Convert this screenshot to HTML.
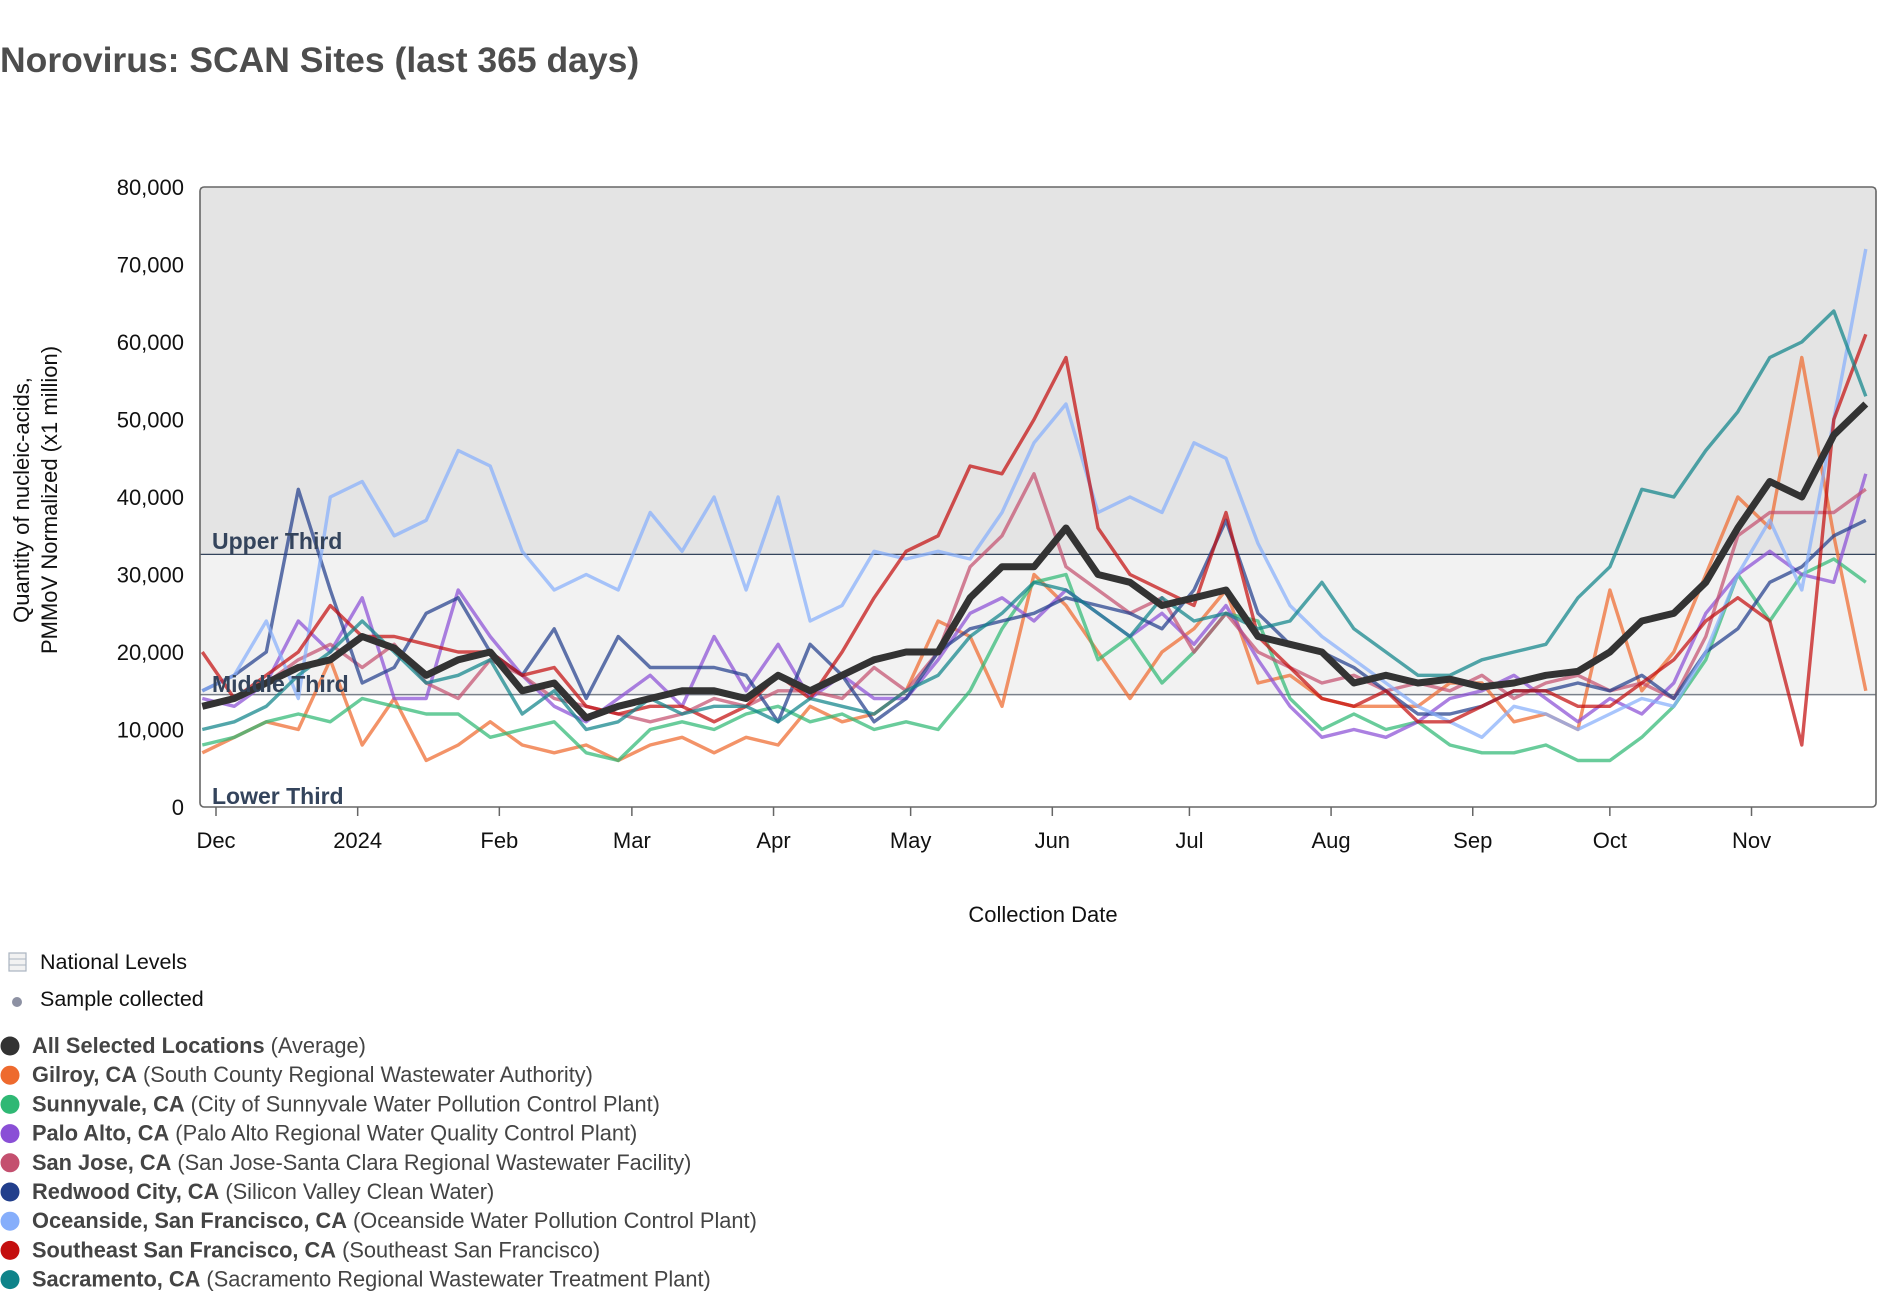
<!DOCTYPE html>
<html><head><meta charset="utf-8"><style>
html,body{margin:0;padding:0;background:#fff;}
svg{display:block;font-family:"Liberation Sans",Arial,sans-serif;}
</style></head><body>
<svg id="chart" width="1902" height="1298" viewBox="0 0 1902 1298">
<text x="0" y="72" font-size="35.5" font-weight="bold" fill="#4d4d4d">Norovirus: SCAN Sites (last 365 days)</text>
<g id="plot"></g>
<g id="legend"></g>
</svg>
<script>
const days = [-3,4,11,18,25,32,39,46,53,60,67,74,81,88,95,102,109,116,123,130,137,144,151,158,165,172,179,186,193,200,207,214,221,228,235,242,249,256,263,270,277,284,291,298,305,312,319,326,333,340,347,354,361];
const monthLabels = ["Dec","2024","Feb","Mar","Apr","May","Jun","Jul","Aug","Sep","Oct","Nov"];
const monthDays = [0,31,62,91,122,152,183,213,244,275,305,336];
const yTicks = [0,10000,20000,30000,40000,50000,60000,70000,80000];
const upperThird = 32600;
const lowerThird = 14500;
const gilroy = [7,9,11,10,19,8,14,6,8,11,8,7,8,6,8,9,7,9,8,13,11,12,15,24,22,13,30,26,20,14,20,23,28,16,17,14,13,13,13,16,16,11,12,10,28,15,20,30,40,36,58,35,15];
const sunnyvale = [8,9,11,12,11,14,13,12,12,9,10,11,7,6,10,11,10,12,13,11,12,10,11,10,15,23,29,30,19,22,16,20,25,24,14,10,12,10,11,8,7,7,8,6,6,9,13,19,30,24,30,32,29];
const paloAlto = [14,13,16,24,20,27,14,14,28,22,17,13,11,14,17,13,22,15,21,14,17,14,14,19,25,27,24,28,25,22,25,21,26,19,13,9,10,9,11,14,15,17,14,11,14,12,16,25,30,33,30,29,43];
const sanJose = [13,14,16,19,21,18,21,16,14,19,17,14,13,12,11,12,14,13,15,15,14,18,15,20,31,35,43,31,28,25,27,20,25,20,18,16,17,15,16,15,17,14,16,17,15,16,14,22,35,38,38,38,41];
const redwood = [15,17,20,41,28,16,18,25,27,20,17,23,14,22,18,18,18,17,11,21,17,11,14,20,23,24,25,27,26,25,23,28,37,25,21,20,18,15,12,12,13,15,15,16,15,17,14,20,23,29,31,35,37];
const oceanside = [15,17,24,14,40,42,35,37,46,44,33,28,30,28,38,33,40,28,40,24,26,33,32,33,32,38,47,52,38,40,38,47,45,34,26,22,19,16,13,11,9,13,12,10,12,14,13,20,30,37,28,50,72];
const seSF = [20,14,17,20,26,22,22,21,20,20,17,18,13,12,13,13,11,13,17,14,20,27,33,35,44,43,50,58,36,30,28,26,38,22,18,14,13,15,11,11,13,15,15,13,13,16,19,24,27,24,8,50,61];
const sacramento = [10,11,13,17,20,24,20,16,17,19,12,15,10,11,14,12,13,13,11,14,13,12,15,17,22,25,29,28,25,22,27,24,25,23,24,29,23,20,17,17,19,20,21,27,31,41,40,46,51,58,60,64,53];
const average = [13,14,16,18,19,22,20.5,17,19,20,15,16,11.5,13,14,15,15,14,17,15,17,19,20,20,27,31,31,36,30,29,26,27,28,22,21,20,16,17,16,16.5,15.5,16,17,17.5,20,24,25,29,36,42,40,48,52];

const seriesNames = ["Gilroy, CA","Sunnyvale, CA","Palo Alto, CA","San Jose, CA","Redwood City, CA","Oceanside, San Francisco, CA","Southeast San Francisco, CA","Sacramento, CA"];
const seriesColors = ["#ee6a2e","#2fb874","#8a4fd6","#c4506f","#223f8c","#86aefb","#c40f0f","#0f8389"];
const seriesData = [gilroy,sunnyvale,paloAlto,sanJose,redwood,oceanside,seSF,sacramento];

const NS="http://www.w3.org/2000/svg";
const L=200,R=1876,T=187,B=807;
function xs(d){return 216+d*4.57;}
function ys(v){return B-v*(B-T)/80000;}
function mk(tag,attrs,parent,text){const e=document.createElementNS(NS,tag);for(const k in attrs)e.setAttribute(k,attrs[k]);if(text!==undefined)e.textContent=text;parent.appendChild(e);return e;}
const plot=document.getElementById('plot');

let e;
e=mk('rect',{x:L,y:T,width:R-L,height:ys(upperThird)-T,fill:'#e4e4e4'},plot);


e=mk('rect',{x:L,y:ys(upperThird),width:R-L,height:ys(lowerThird)-ys(upperThird),fill:'#f2f2f2'},plot);


e=mk('line',{x1:L,x2:R,y1:ys(upperThird),y2:ys(upperThird),stroke:'#34445c','stroke-width':1.2},plot);


e=mk('line',{x1:L,x2:R,y1:ys(lowerThird),y2:ys(lowerThird),stroke:'#7a808a','stroke-width':1.5},plot);



seriesData.forEach((arr,i)=>{
  const pts=arr.map((v,j)=>xs(days[j]).toFixed(1)+','+ys(v*1000).toFixed(1)).join(' ');
  const p=mk('polyline',{points:pts,fill:'none',stroke:seriesColors[i],'stroke-width':3.4,'stroke-opacity':0.72,'stroke-linejoin':'round'},plot);
  
  
});
const avgPts=average.map((v,j)=>xs(days[j]).toFixed(1)+','+ys(v*1000).toFixed(1)).join(' ');
e=mk('polyline',{points:avgPts,fill:'none',stroke:'#333','stroke-width':7,'stroke-linejoin':'round'},plot);



[["Upper Third",549],["Middle Third",692],["Lower Third",804]].forEach(t=>{
  const tx=mk('text',{x:212,y:t[1],'font-size':23,'font-weight':'bold',fill:'#34445c'},plot,t[0]);
  
  
});

e=mk('rect',{x:L,y:T,width:R-L,height:B-T,rx:4,fill:'none',stroke:'#666','stroke-width':1.6},plot);



yTicks.forEach(v=>{
  const t=mk('text',{x:184,y:ys(v)+8,'text-anchor':'end','font-size':22,fill:'#111'},plot,v.toLocaleString('en-US'));
  
  
});
monthDays.forEach((d,i)=>{
  const tk=mk('line',{x1:xs(d),x2:xs(d),y1:B,y2:B+9,stroke:'#666','stroke-width':1.5},plot);
  
  
  const t=mk('text',{x:xs(d),y:848,'text-anchor':'middle','font-size':22,fill:'#111'},plot,monthLabels[i]);
  
  
});
e=mk('text',{x:1043,y:922,'text-anchor':'middle','font-size':22,fill:'#111'},plot,'Collection Date');


e=mk('text',{transform:'translate(29,500) rotate(-90)','text-anchor':'middle','font-size':22,fill:'#111'},plot,'Quantity of nucleic-acids,');


e=mk('text',{transform:'translate(57,500) rotate(-90)','text-anchor':'middle','font-size':22,fill:'#111'},plot,'PMMoV Normalized (x1 million)');



const lg=document.getElementById('legend');
e=mk('rect',{x:9,y:953,width:17,height:18,fill:'#f2f2f2',stroke:'#aab4c0','stroke-width':1.2},lg);


mk('line',{x1:9,x2:26,y1:959,y2:959,stroke:'#aab4c0'},lg);
mk('line',{x1:9,x2:26,y1:965,y2:965,stroke:'#aab4c0'},lg);
e=mk('text',{x:40,y:969,'font-size':21.5,fill:'#111'},lg,'National Levels');


e=mk('circle',{cx:17,cy:1002,r:5,fill:'#8d91a3'},lg);


e=mk('text',{x:40,y:1006,'font-size':21.5,fill:'#111'},lg,'Sample collected');



const legNames=["All Selected Locations"].concat(seriesNames);
const legSubs=["(Average)","(South County Regional Wastewater Authority)","(City of Sunnyvale Water Pollution Control Plant)","(Palo Alto Regional Water Quality Control Plant)","(San Jose-Santa Clara Regional Wastewater Facility)","(Silicon Valley Clean Water)","(Oceanside Water Pollution Control Plant)","(Southeast San Francisco)","(Sacramento Regional Wastewater Treatment Plant)"];
const legColors=["#333"].concat(seriesColors);
legNames.forEach((n,i)=>{
  const cy=1046+i*29.2;
  const c=mk('circle',{cx:10,cy:cy,r:9.5,fill:legColors[i]},lg);
  
  
  const t=mk('text',{x:32,y:cy+7,'font-size':21.8,fill:'#444'},lg);
  
  
  mk('tspan',{'font-weight':'bold'},t,n);
  mk('tspan',{},t,' '+legSubs[i]);
});
</script>
</body></html>
